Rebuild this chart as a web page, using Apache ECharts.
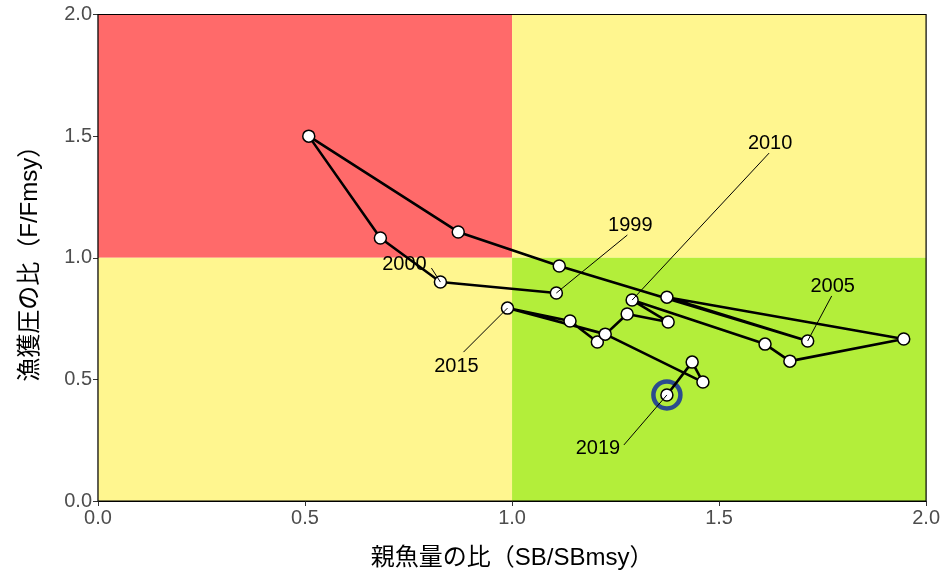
<!DOCTYPE html>
<html>
<head>
<meta charset="utf-8">
<script src="https://cdn.jsdelivr.net/npm/echarts@6/dist/echarts.min.js"></script>
<style>html,body{margin:0;padding:0;background:#fff}#c{width:943px;height:575px}</style>
</head>
<body>
<div id="c"></div>
<script>
// ---- data ----
const years = [1999,2000,2001,2002,2003,2004,2005,2006,2007,2008,2009,2010,2011,2012,2013,2014,2015,2016,2017,2018,2019];
const sbRatio = [1.107,0.827,0.682,0.509,0.870,1.114,1.714,1.374,1.946,1.671,1.611,1.290,1.377,1.278,1.206,1.140,0.989,1.225,1.461,1.435,1.374];
const fRatio  = [0.855,0.900,1.081,1.500,1.106,0.966,0.658,0.838,0.666,0.575,0.645,0.826,0.736,0.769,0.654,0.740,0.793,0.686,0.489,0.571,0.436];
const labelYears = [1999,2000,2005,2010,2015,2019];
const axisTicks = [0.0,0.5,1.0,1.5,2.0];
const sbThreshold = 1.0;
const fThreshold = 1.0;
const axisMax = 2.0;

// ---- styling (pixel offsets for repelled labels: text centre & leader end) ----
const labelStyle = {
  1999: {t:[74,-68], e:[71,-58]},
  2000: {t:[-36,-18], e:[-9,-14]},
  2005: {t:[25,-54], e:[24,-45]},
  2010: {t:[138,-157], e:[137,-147]},
  2015: {t:[-51,58], e:[-44,44]},
  2019: {t:[-69,54], e:[-43,50]}
};

const pts = years.map((y,i)=>[sbRatio[i], fRatio[i], y]);
const labelPts = pts.filter(p=>labelYears.includes(p[2]));
const last = pts[pts.length-1];

const chart = echarts.init(document.getElementById('c'), null, {renderer:'canvas'});
const latin = 'Liberation Sans, Arial, sans-serif';
const jp = 'Liberation Sans, "Noto Sans CJK JP", sans-serif';

chart.setOption({
  animation:false,
  grid:{left:98, right:15.5, top:14.5, bottom:74, containLabel:false},
  xAxis:{
    type:'value', min:0, max:axisMax, interval:0.5,
    name:'親魚量の比（SB/SBmsy）', nameLocation:'middle', nameGap:45,
    nameTextStyle:{fontFamily:jp, fontSize:24, color:'#000'},
    axisLine:{show:true, onZero:false, lineStyle:{color:'#000', width:1.2}},
    axisTick:{show:true, length:5, lineStyle:{color:'#333', width:1}},
    axisLabel:{fontFamily:latin, fontSize:20, color:'#4D4D4D', margin:7,
      formatter:v=>axisTicks.includes(v)?v.toFixed(1):''},
    splitLine:{show:false}
  },
  yAxis:{
    type:'value', min:0, max:axisMax, interval:0.5,
    name:'漁獲圧の比（F/Fmsy）', nameLocation:'middle', nameGap:56, nameRotate:90,
    nameTextStyle:{fontFamily:jp, fontSize:24, color:'#000'},
    axisLine:{show:true, onZero:false, lineStyle:{color:'#000', width:1.2}},
    axisTick:{show:true, length:5, lineStyle:{color:'#333', width:1}},
    axisLabel:{fontFamily:latin, fontSize:20, color:'#4D4D4D', margin:6,
      formatter:v=>axisTicks.includes(v)?v.toFixed(1):''},
    splitLine:{show:false}
  },
  series:[
    {
      type:'line', data:[], silent:true,
      markArea:{silent:true, itemStyle:{opacity:1},
        data:[
          [{coord:[0,fThreshold], itemStyle:{color:'#FF6A6A'}},{coord:[sbThreshold,axisMax]}],
          [{coord:[sbThreshold,fThreshold], itemStyle:{color:'#FFF68F'}},{coord:[axisMax,axisMax]}],
          [{coord:[0,0], itemStyle:{color:'#FFF68F'}},{coord:[sbThreshold,fThreshold]}],
          [{coord:[sbThreshold,0], itemStyle:{color:'#B3EE3A'}},{coord:[axisMax,fThreshold]}]
        ]}
    },
    {
      type:'scatter', data:[last], symbol:'circle', symbolSize:27, z:3, silent:true,
      itemStyle:{color:'rgba(0,0,0,0)', borderColor:'#2B4C8E', borderWidth:4.5, opacity:1}
    },
    {
      type:'line', data:pts, z:4, silent:true,
      symbol:'circle', symbolSize:12,
      itemStyle:{color:'#fff', borderColor:'#000', borderWidth:1.5, opacity:1},
      lineStyle:{color:'#000', width:2.6}
    },
    {
      type:'custom', data:labelPts, z:6, silent:true,
      renderItem:(params, api)=>{
        const x=api.value(0), y=api.value(1), yr=api.value(2);
        const p=api.coord([x,y]);
        const s=labelStyle[yr];
        return {type:'group', children:[
          {type:'line', shape:{x1:p[0],y1:p[1],x2:p[0]+s.e[0],y2:p[1]+s.e[1]},
           style:{stroke:'#000', lineWidth:1}},
          {type:'text', x:p[0]+s.t[0], y:p[1]+s.t[1],
           style:{text:String(yr), fontFamily:latin, fontSize:20, fill:'#000',
             align:'center', verticalAlign:'middle'}}
        ]};
      }
    }
  ],
  graphic:[]
});

// panel border drawn on grid rect
const g = chart.getModel().getComponent('grid').coordinateSystem.getRect();
chart.setOption({graphic:[{type:'rect', z:10, silent:true,
  shape:{x:g.x, y:g.y, width:g.width, height:g.height},
  style:{fill:null, stroke:'#000', lineWidth:1.2}}]});
</script>
</body>
</html>
